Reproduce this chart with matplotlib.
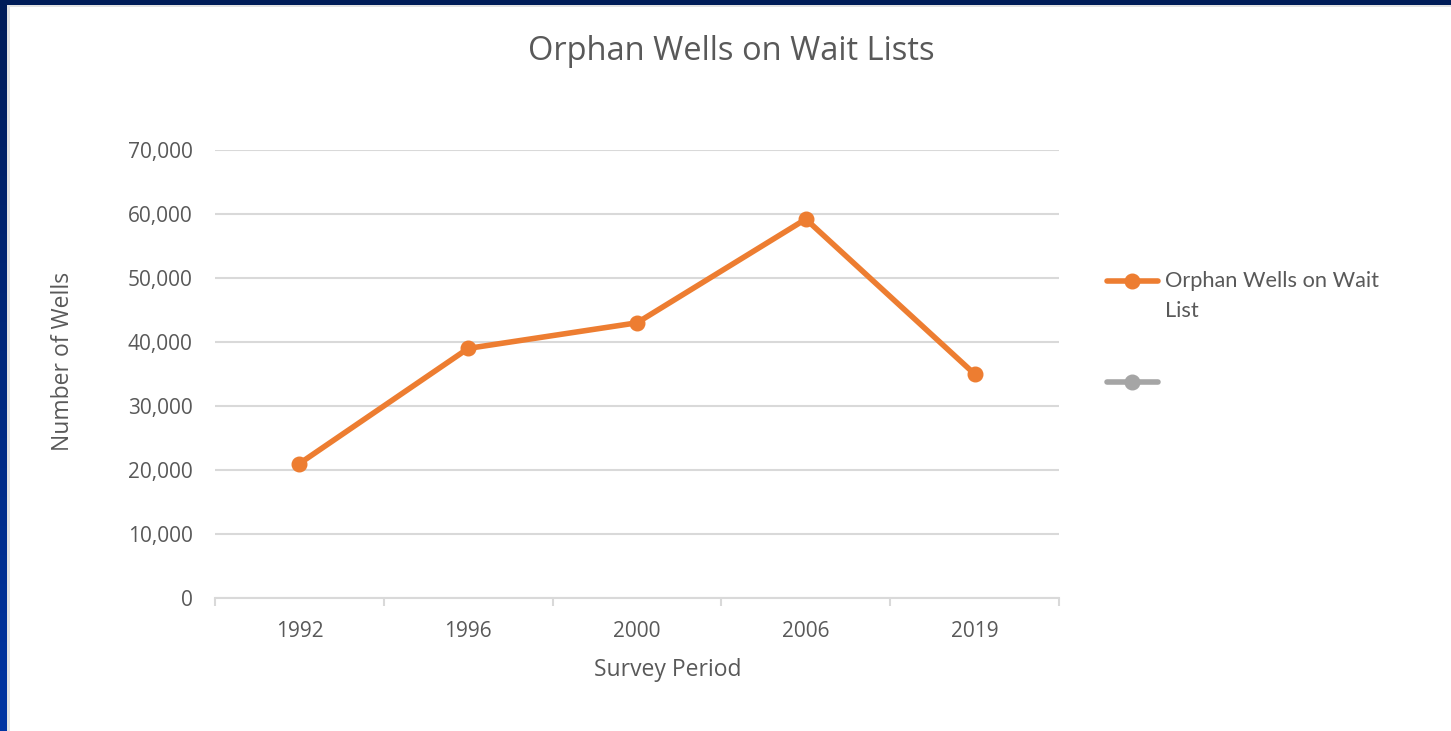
import matplotlib.pyplot as plt
import numpy as np
from matplotlib.lines import Line2D
from matplotlib.patches import Rectangle
from matplotlib.colors import LinearSegmentedColormap
from matplotlib.ticker import FuncFormatter, FixedLocator

years = ["1992", "1996", "2000", "2006", "2019"]
wells = [21000, 39000, 43000, 59200, 35000]

orange = "#ED7D31"
gray_series = "#A5A5A5"
txt = "#595959"
grid = "#D9D9D9"

plt.rcParams['font.family'] = ['Open Sans', 'DejaVu Sans']

fig = plt.figure(figsize=(14.51, 7.31), dpi=100)

# blue slide background with white chart area
bg = fig.add_axes([0, 0, 1, 1], zorder=-10)
grad = np.linspace(0, 1, 256).reshape(-1, 1)
cmap = LinearSegmentedColormap.from_list("slide", ["#001c58", "#0035a3"])
bg.imshow(grad, aspect="auto", cmap=cmap, extent=[0, 1, 0, 1], origin="upper")
bg.add_patch(Rectangle((7 / 1451, 0), 1, 1 - 5 / 731, facecolor="#E3E3E3", edgecolor="none"))
bg.add_patch(Rectangle((10 / 1451, 0), 1, 1 - 7 / 731, facecolor="white", edgecolor="none"))
bg.set_xlim(0, 1)
bg.set_ylim(0, 1)
bg.axis("off")

ax = fig.add_axes([215 / 1451, 1 - 598 / 731, (1059 - 215) / 1451, 448 / 731])
ax.set_facecolor("none")
x = np.arange(len(years))
ax.plot(x, wells, color=orange, lw=4, marker="o", ms=10.5, solid_capstyle="round", zorder=3)

ax.set_xlim(-0.5, len(years) - 0.5)
ax.set_ylim(0, 70000)
ax.set_yticks(np.arange(0, 70001, 10000))
ax.yaxis.set_major_formatter(FuncFormatter(lambda v, p: f"{int(v):,}"))
ax.grid(axis="y", color=grid, lw=1.5)
ax.set_axisbelow(True)

ax.set_xticks(x)
ax.set_xticklabels(years)
ax.xaxis.set_minor_locator(FixedLocator(np.arange(-0.5, len(years), 1)))
ax.tick_params(axis="x", which="major", length=0, pad=16.5, labelsize=15, labelcolor=txt)
ax.tick_params(axis="x", which="minor", length=6, width=1.5, color=grid, direction="out")
ax.tick_params(axis="y", length=0, pad=16, labelsize=15, labelcolor=txt)

for s in ["top", "right", "left"]:
    ax.spines[s].set_visible(False)
ax.spines["bottom"].set_color(grid)
ax.spines["bottom"].set_linewidth(1.5)

ax.set_xlabel("Survey Period", fontsize=16.5, color=txt)
ax.xaxis.set_label_coords((668 - 215) / 844, -(670 - 598) / 448)
ax.xaxis.label.set_va("center")
ax.set_ylabel("Number of Wells", fontsize=16.5, color=txt)
ax.yaxis.set_label_coords(-(215 - 63) / 844, (598 - 361) / 448)
ax.yaxis.label.set_va("center")

fig.text(731 / 1451, 1 - 52 / 731, "Orphan Wells on Wait Lists", ha="center", va="center",
         fontsize=23.5, color=txt)

# legend drawn by hand so the marker lines up with the first text line
def fx(px):
    return px / 1451

def fy(py):
    return 1 - py / 731

for yy, col in [(281, orange), (382, gray_series)]:
    fig.add_artist(Line2D([fx(1107), fx(1158)], [fy(yy), fy(yy)], transform=fig.transFigure,
                          color=col, lw=4, solid_capstyle="round"))
    fig.add_artist(Line2D([fx(1132)], [fy(yy)], transform=fig.transFigure, color=col,
                          marker="o", ms=10.5))
fig.text(fx(1165), fy(281), "Orphan Wells on Wait", ha="left", va="center",
         fontsize=15.7, color=txt, family=["Lato", "DejaVu Sans"])
fig.text(fx(1165), fy(311), "List", ha="left", va="center",
         fontsize=15.7, color=txt, family=["Lato", "DejaVu Sans"])

fig.savefig("out.png", dpi=100)
